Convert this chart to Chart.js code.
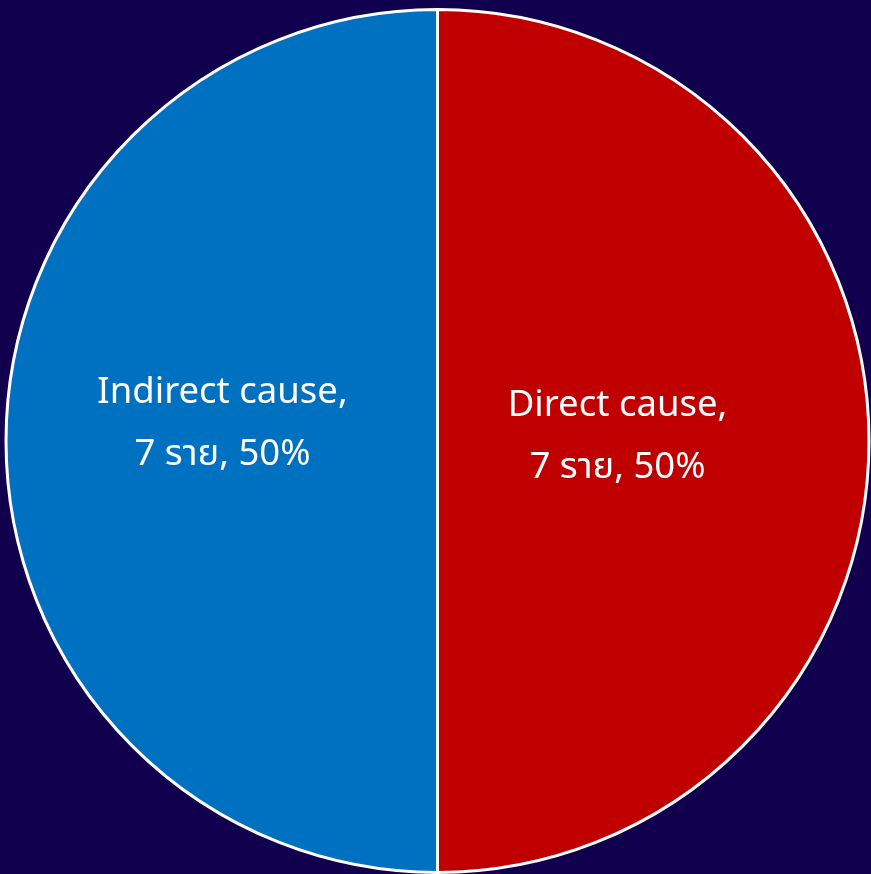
<!DOCTYPE html>
<html>
<head>
<meta charset="utf-8">
<script src="https://cdn.jsdelivr.net/npm/chart.js@4/dist/chart.umd.min.js"></script>
<style>
  html, body { margin: 0; padding: 0; background: #10004e; }
  #wrap { width: 871px; height: 874px; }
</style>
</head>
<body>
<div id="wrap"><canvas id="c"></canvas></div>
<script>
// Cause breakdown: counts per category
const categories = ['Direct cause', 'Indirect cause'];
const counts = [7, 7];
const unitLabel = 'ราย';
const sliceColors = ['#c00000', '#0070c0'];

// Offsets of each label block from the pie centre (px)
const labelShift = [{ dx: 180, dy: -4 }, { dx: -215, dy: -17 }];

const total = counts.reduce((a, b) => a + b, 0);

const sliceLabels = {
  id: 'sliceLabels',
  afterDatasetsDraw(chart) {
    const ctx = chart.ctx;
    const meta = chart.getDatasetMeta(0);
    ctx.save();
    ctx.fillStyle = '#ffffff';
    ctx.textAlign = 'center';
    ctx.textBaseline = 'middle';
    ctx.font = '36.5px "Noto Sans", "Noto Sans Thai", "Tahoma", sans-serif';
    meta.data.forEach((arc, i) => {
      const { x, y } = arc.getProps(['x', 'y'], true);
      const cx = x + labelShift[i].dx;
      const cy = y + labelShift[i].dy;
      const pct = Math.round(counts[i] / total * 100);
      ctx.fillText(categories[i] + ',', cx, cy - 31);
      ctx.fillText(counts[i] + ' ' + unitLabel + ', ' + pct + '%', cx, cy + 31);
    });
    ctx.restore();
  }
};

new Chart(document.getElementById('c'), {
  type: 'pie',
  data: {
    labels: categories,
    datasets: [{
      data: counts,
      backgroundColor: sliceColors,
      borderColor: '#ffffff',
      borderWidth: 3
    }]
  },
  options: {
    responsive: true,
    maintainAspectRatio: false,
    animation: false,
    layout: { padding: { top: 8, left: 4, right: 0, bottom: 0 } },
    plugins: {
      legend: { display: false },
      tooltip: { enabled: false }
    }
  },
  plugins: [sliceLabels]
});
</script>
</body>
</html>
